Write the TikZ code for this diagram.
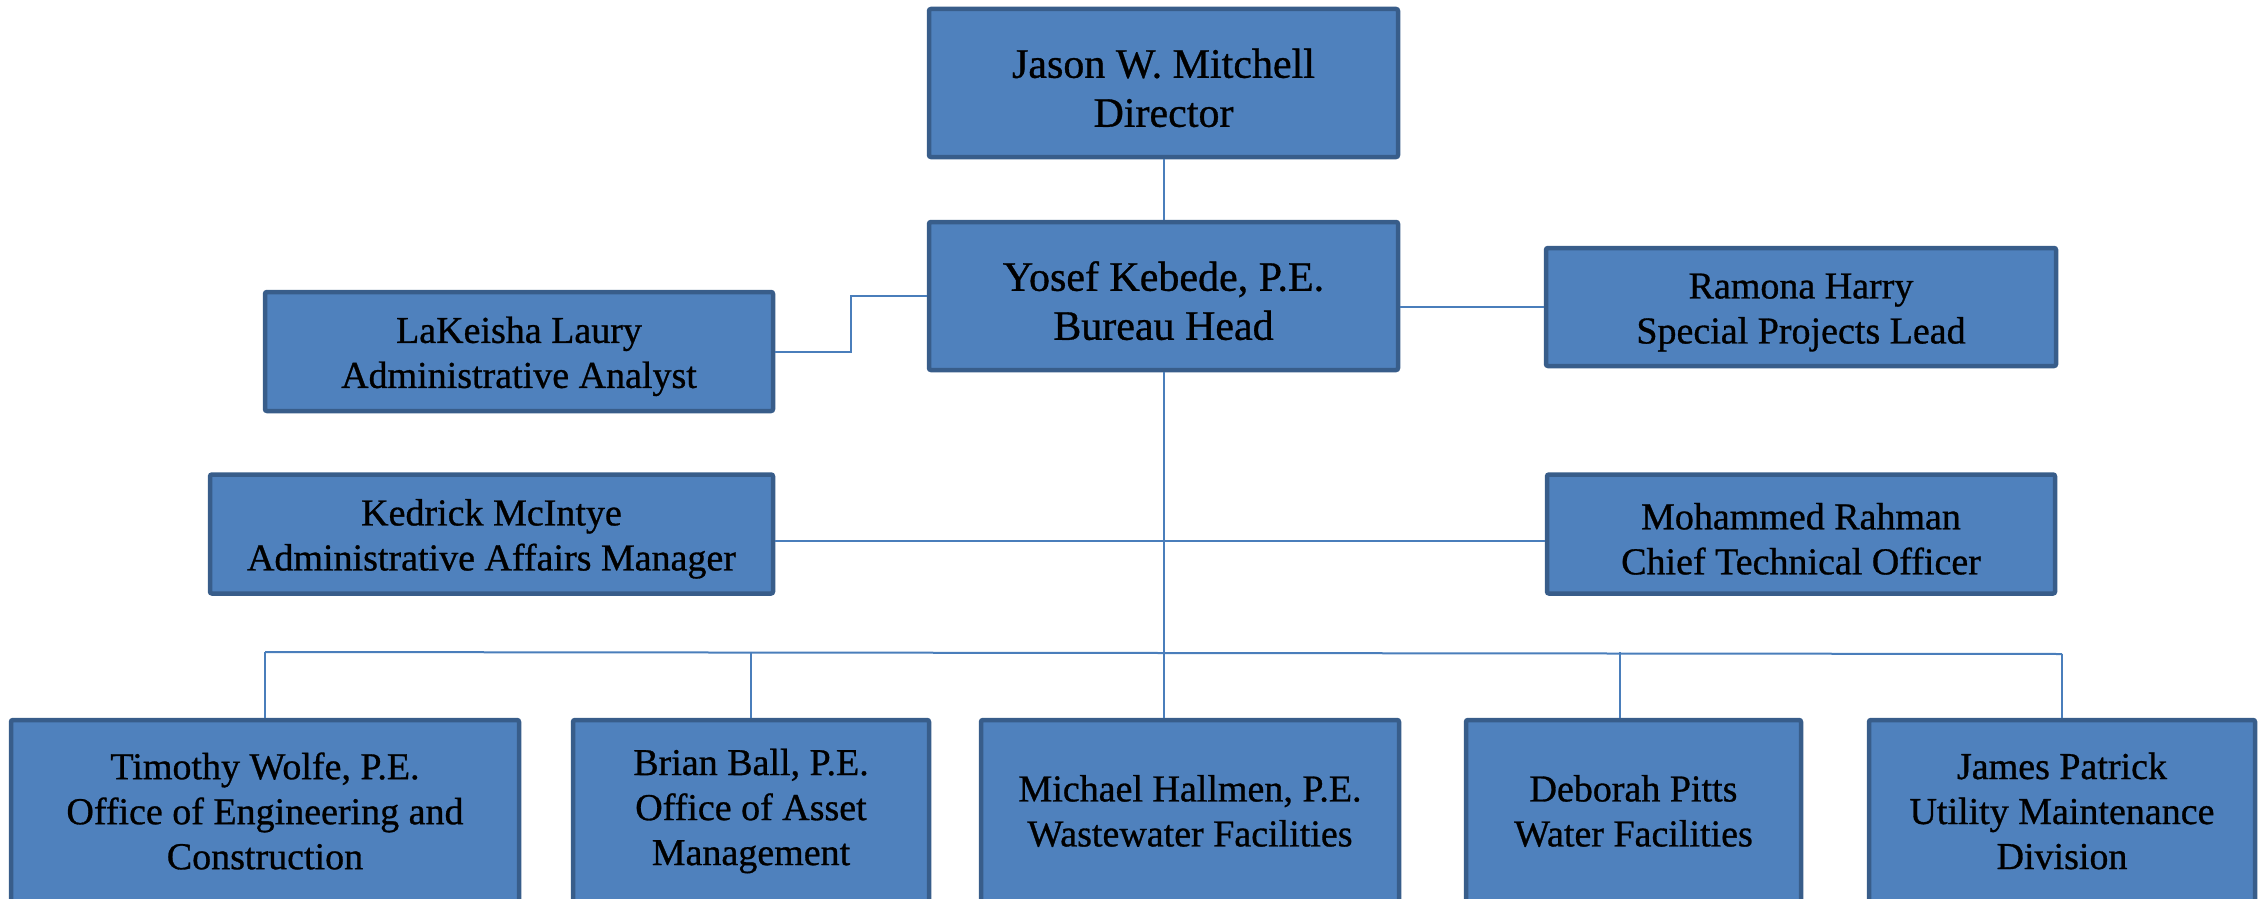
\documentclass[tikz,border=0pt]{standalone}
\usepackage{fontspec}
\setmainfont{Liberation Serif}[RawFeature={embolden=0.8}]
\usetikzlibrary{calc}
\definecolor{boxfill}{HTML}{4F81BD}
\definecolor{boxline}{HTML}{385D8A}
\definecolor{conn}{HTML}{4A7EBB}
\newcommand{\lowbig}{\rule{0pt}{39pt}}
\newcommand{\lowsmall}{\rule{0pt}{36pt}}
\begin{document}
\begin{tikzpicture}[x=1pt,y=-1pt,
  orgbox/.style={draw=boxline, fill=boxfill, line width=4.5pt, rounded corners=2pt,
    align=center, text=black, inner sep=0pt},
  bigtext/.style={font=\fontsize{42}{49}\selectfont},
  smalltext/.style={font=\fontsize{38}{45}\selectfont},
  link/.style={draw=conn, line width=2pt}]
\useasboundingbox (0,0) rectangle (2260,899);
\clip (0,0) rectangle (2260,899);

% top
\node[orgbox, bigtext, minimum width=469pt, minimum height=148pt] (director) at (1163.5,83) {\lowbig Jason W. Mitchell\\Director};
\node[orgbox, bigtext, minimum width=469pt, minimum height=148pt] (bureau) at (1163.5,296) {\lowbig Yosef Kebede, P.E.\\Bureau Head};

% side staff
\node[orgbox, smalltext, minimum width=508pt, minimum height=119pt] (lakeisha) at (519,351.5) {\lowsmall LaKeisha Laury\\Administrative Analyst};
\node[orgbox, smalltext, minimum width=510pt, minimum height=118pt] (ramona) at (1801,307) {\lowsmall Ramona Harry\\Special Projects Lead};
\node[orgbox, smalltext, minimum width=563pt, minimum height=119pt] (kedrick) at (491.5,534) {\lowsmall Kedrick McIntye\\Administrative Affairs Manager};
\node[orgbox, smalltext, minimum width=508pt, minimum height=119pt] (mohammed) at (1801,534) {\lowsmall Mohammed Rahman\\Chief Technical Officer};

% bottom row
\node[orgbox, smalltext, minimum width=508pt, minimum height=182pt] (timothy) at (265,811) {Timothy Wolfe, P.E.\\Office of Engineering and\\Construction};
\node[orgbox, smalltext, minimum width=356pt, minimum height=182pt] (brian) at (751,811) {Brian Ball, P.E.\\Office of Asset\\Management};
\node[orgbox, smalltext, minimum width=418pt, minimum height=182pt] (michael) at (1190,811) {Michael Hallmen, P.E.\\Wastewater Facilities};
\node[orgbox, smalltext, minimum width=335pt, minimum height=182pt] (deborah) at (1633.5,811) {Deborah Pitts\\Water Facilities};
\node[orgbox, smalltext, minimum width=386pt, minimum height=182pt] (james) at (2062,811) {James Patrick\\Utility Maintenance\\Division};

% connectors
\coordinate (busL) at (265,652);
\coordinate (busR) at (2062,654);
\coordinate (midL) at ($(lakeisha.east)!0.5!(bureau.west)$);
\coordinate (debtop) at ($(deborah.north)+(-13.5,0)$);
\coordinate (kedlink) at ($(kedrick.east)+(0,7)$);

\draw[link] (director.south) -- (bureau.north);
\draw[link] (lakeisha.east) -| (midL) |- (bureau.west);
\draw[link] (ramona.west) -- (ramona.west -| bureau.east);
\draw[link] (bureau.south) -- (bureau.south |- michael.north);
\draw[link] (kedlink) -- (kedlink -| mohammed.west);
\draw[link] (busL) -- (busR);
\draw[link] (busL) -- (timothy.north);
\draw[link] (brian.north |- busL) -- (brian.north);
\draw[link] (debtop |- busL) -- (debtop);
\draw[link] (busR) -- (james.north);
\end{tikzpicture}
\end{document}
